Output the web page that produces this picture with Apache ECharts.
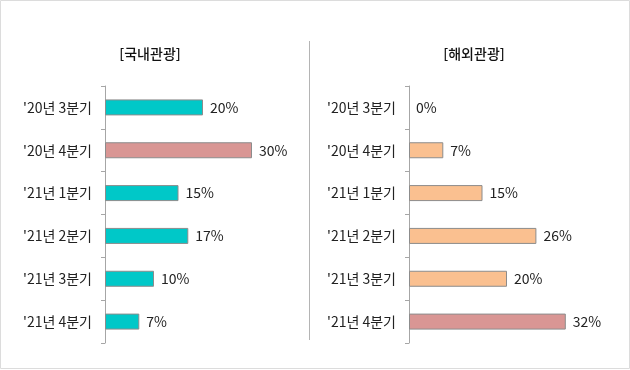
<!DOCTYPE html>
<html><head><meta charset="utf-8">
<script src="https://cdn.jsdelivr.net/npm/echarts@6/dist/echarts.min.js"></script>
<style>html,body{margin:0;padding:0;background:#fff}#c{width:630px;height:370px}</style>
</head><body><div id="c"></div>
<script>
const categories = ["'20년 3분기", "'20년 4분기", "'21년 1분기", "'21년 2분기", "'21년 3분기", "'21년 4분기"];
const domesticValues = [20, 30, 15, 17, 10, 7];
const overseasValues = [0, 7, 15, 26, 20, 32];
const domesticTitle = "[국내관광]";
const overseasTitle = "[해외관광]";
const domesticHighlight = 1;
const overseasHighlight = 5;

const TEAL = '#00C8C8', PINK = '#D99694', ORANGE = '#FAC090';
const FONT = '"Noto Sans CJK KR", "Noto Sans", sans-serif';

function items(vals, base, hi) {
  return vals.map((v, i) => ({
    value: v,
    itemStyle: { color: i === hi ? PINK : base, borderWidth: v === 0 ? 0 : 1 }
  }));
}
function yAx(gi) {
  return {
    type: 'category', gridIndex: gi, data: categories, inverse: true,
    axisLine: { show: true, lineStyle: { color: '#a6a6a6', width: 1 } },
    axisTick: { show: true, length: 4, lineStyle: { color: '#a6a6a6' } },
    axisLabel: { color: '#222', fontSize: 14, fontFamily: FONT, margin: 13 },
    splitLine: { show: false }
  };
}
function xAx(gi) {
  return { type: 'value', gridIndex: gi, min: 0, max: 40, show: false };
}
function ser(gi, vals, base, hi) {
  return {
    type: 'bar', xAxisIndex: gi, yAxisIndex: gi, data: items(vals, base, hi),
    barWidth: 16,
    itemStyle: { borderColor: '#8c8c8c', borderWidth: 1 },
    label: { show: true, position: 'right', distance: 7, formatter: '{c}%', color: '#222', fontSize: 14, fontFamily: FONT },
    silent: true, animation: false
  };
}
const chart = echarts.init(document.getElementById('c'), null, { renderer: 'canvas' });
chart.setOption({
  animation: false,
  title: [
    { text: domesticTitle, left: 145, top: 42, textAlign: 'center', textStyle: { fontSize: 14, fontWeight: 500, color: '#111', fontFamily: FONT } },
    { text: overseasTitle, left: 469, top: 42, textAlign: 'center', textStyle: { fontSize: 14, fontWeight: 500, color: '#111', fontFamily: FONT } }
  ],
  grid: [
    { left: 105, top: 86, width: 196, height: 257 },
    { left: 409, top: 86, width: 196, height: 257 }
  ],
  xAxis: [xAx(0), xAx(1)],
  yAxis: [yAx(0), yAx(1)],
  series: [ser(0, domesticValues, TEAL, domesticHighlight), ser(1, overseasValues, ORANGE, overseasHighlight)],
  graphic: [
    { type: 'rect', shape: { x: 0.5, y: 0.5, width: 629, height: 368 }, style: { fill: 'none', stroke: '#dcdcdc', lineWidth: 1 }, silent: true },
    { type: 'line', shape: { x1: 309.5, y1: 41, x2: 309.5, y2: 340 }, style: { stroke: '#b4b4b4', lineWidth: 1 }, silent: true }
  ]
});
</script></body></html>
